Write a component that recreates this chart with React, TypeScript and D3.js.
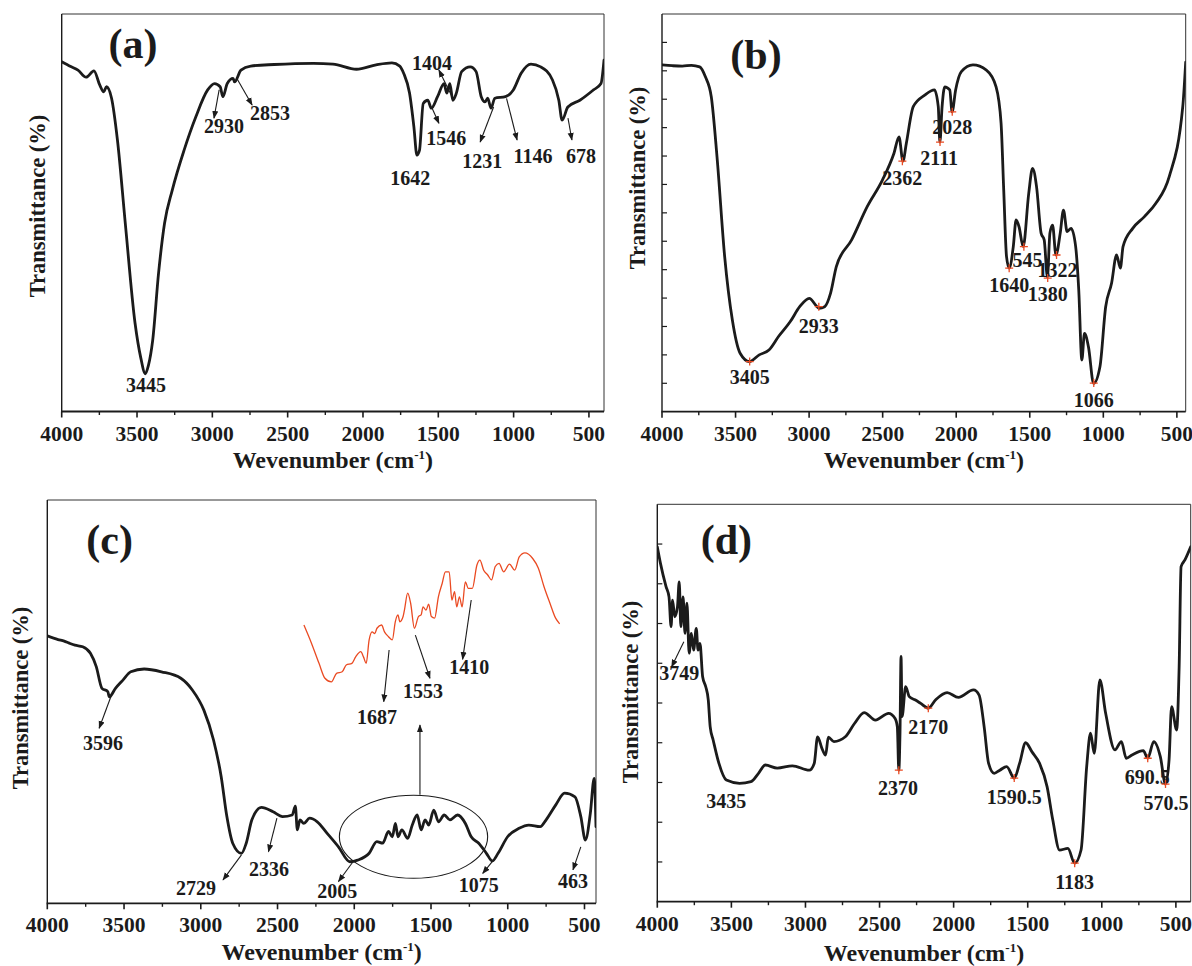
import React from 'react';
import * as d3 from 'd3';

type Pt = [number, number];

// ---- data: [wavenumber (cm-1), transmittance (arbitrary %)] ----
const spectrumA: Pt[] = [
  [4000, 88.0], [3940, 86.8], [3892, 85.9], [3838, 84.1], [3786, 85.7], [3747, 82.1], [3721, 80.4],
  [3703, 81.7], [3669, 78.8], [3630, 68.3], [3578, 47.4], [3513, 22.2], [3475, 13.5], [3445, 9.5],
  [3425, 11.5], [3396, 17.9], [3357, 34.8], [3317, 47.4], [3266, 55.7], [3188, 65.7], [3110, 74.1],
  [3031, 80.9], [2985, 82.5], [2948, 81.7], [2930, 79.2], [2901, 82.5], [2862, 83.8], [2853, 82.9],
  [2810, 85.9], [2745, 86.9], [2589, 87.3], [2329, 87.6], [2199, 87.4], [2043, 86.1], [1913, 87.2],
  [1808, 87.7], [1756, 86.9], [1730, 85.1], [1691, 80.1], [1662, 71.6], [1642, 64.5], [1625, 65.7],
  [1600, 77.5], [1570, 78.3], [1546, 76.3], [1505, 79.2], [1462, 82.5], [1444, 80.1], [1423, 82.5],
  [1404, 78.3], [1380, 80.1], [1345, 85.5], [1288, 86.7], [1249, 85.5], [1215, 79.2], [1190, 77.9],
  [1172, 78.8], [1150, 76.3], [1125, 78.8], [1054, 79.2], [1002, 80.9], [950, 85.1], [885, 87.4],
  [820, 86.7], [742, 83.4], [700, 78.3], [678, 73.3], [640, 76.6], [560, 78.3], [470, 80.9],
  [420, 82.5], [400, 88.4],
];

const spectrumB: Pt[] = [
  [4000, 87.2], [3930, 87.0], [3862, 86.9], [3800, 87.1], [3744, 86.7], [3705, 84.2], [3665, 79.2],
  [3626, 64.1], [3574, 39.0], [3522, 23.1], [3469, 14.7], [3405, 12.6], [3339, 14.3], [3273, 15.5],
  [3208, 18.9], [3129, 22.6], [3064, 26.4], [2999, 28.5], [2946, 26.4], [2933, 26.0], [2894, 26.4],
  [2854, 29.8], [2815, 36.5], [2711, 43.2], [2606, 51.5], [2501, 58.3], [2423, 65.0], [2389, 69.1],
  [2362, 63.0], [2339, 67.5], [2292, 76.7], [2214, 79.6], [2148, 80.9], [2122, 76.7], [2111, 67.8],
  [2096, 76.7], [2078, 81.7], [2044, 80.9], [2028, 75.4], [2004, 80.9], [1965, 85.5], [1886, 87.2],
  [1795, 85.9], [1729, 81.7], [1695, 72.5], [1677, 55.7], [1658, 39.0], [1640, 36.1], [1612, 41.5],
  [1593, 48.2], [1573, 46.5], [1545, 41.5], [1507, 54.9], [1481, 61.2], [1454, 56.6], [1423, 44.9],
  [1402, 43.2], [1380, 33.9], [1363, 44.9], [1345, 46.9], [1322, 39.4], [1293, 44.9], [1271, 50.7],
  [1246, 45.3], [1219, 46.1], [1188, 41.5], [1167, 30.6], [1146, 13.0], [1128, 19.7], [1101, 16.3],
  [1066, 7.1], [1023, 11.3], [984, 26.4], [944, 32.3], [910, 39.4], [884, 36.1], [866, 41.5],
  [800, 46.1], [722, 49.0], [643, 52.4], [552, 59.1], [460, 76.7], [440, 87.9],
];

const spectrumC: Pt[] = [
  [4000, 66.3], [3930, 65.4], [3890, 65.0], [3857, 64.5], [3820, 64.0], [3769, 63.6], [3719, 62.0],
  [3681, 58.7], [3644, 53.3], [3606, 52.5], [3596, 51.2], [3556, 53.3], [3506, 55.4], [3456, 57.4],
  [3369, 58.1], [3256, 57.4], [3130, 55.8], [3055, 52.9], [2980, 47.9], [2917, 40.5], [2867, 31.4],
  [2830, 21.5], [2792, 14.9], [2735, 12.4], [2704, 14.9], [2667, 20.7], [2605, 23.8], [2529, 22.7],
  [2467, 21.5], [2404, 21.9], [2384, 24.1], [2371, 18.2], [2354, 20.7], [2329, 19.8], [2291, 21.1],
  [2241, 20.2], [2178, 17.4], [2103, 14.0], [2028, 10.3], [1978, 10.7], [1903, 12.4], [1853, 15.3],
  [1815, 14.9], [1777, 17.8], [1752, 16.5], [1732, 19.8], [1715, 16.5], [1690, 18.2], [1652, 16.1],
  [1622, 19.4], [1590, 21.9], [1564, 18.2], [1539, 20.7], [1515, 19.4], [1482, 23.1], [1451, 20.2],
  [1414, 21.9], [1377, 20.7], [1327, 21.9], [1276, 19.8], [1238, 16.5], [1189, 14.9], [1139, 12.4],
  [1101, 10.5], [1063, 12.4], [1001, 16.5], [926, 18.6], [863, 19.4], [788, 19.0], [750, 20.7],
  [687, 24.4], [630, 27.3], [562, 26.4], [524, 21.5], [494, 15.7], [462, 22.3], [437, 31.0], [425, 19.0],
];

// enlarged view of the 2050-1100 cm-1 region, drawn in red above panel (c)
const insetC: Pt[] = [
  [2050, 69.0], [2022, 64.5], [1994, 59.5], [1972, 55.8], [1948, 54.9], [1929, 57.0], [1908, 57.4],
  [1893, 59.1], [1872, 59.5], [1858, 61.1], [1839, 62.4], [1829, 61.1], [1819, 59.5], [1808, 65.3],
  [1797, 67.3], [1787, 66.9], [1779, 68.2], [1762, 69.0], [1751, 67.3], [1736, 66.1], [1722, 65.3],
  [1711, 69.8], [1701, 71.5], [1694, 69.8], [1682, 71.1], [1677, 72.7], [1665, 76.9], [1654, 74.4],
  [1640, 68.2], [1625, 71.1], [1615, 71.5], [1608, 73.5], [1597, 72.7], [1587, 74.2], [1577, 71.1],
  [1565, 70.7], [1551, 76.0], [1537, 79.3], [1525, 82.2], [1511, 82.2], [1501, 75.2], [1491, 77.3],
  [1483, 73.5], [1473, 76.0], [1463, 73.5], [1451, 79.7], [1440, 78.1], [1425, 78.1], [1408, 83.9],
  [1397, 85.1], [1383, 82.6], [1368, 81.4], [1354, 80.2], [1340, 83.5], [1326, 84.3], [1309, 82.2],
  [1287, 84.1], [1268, 82.6], [1251, 85.9], [1230, 86.9], [1201, 85.5], [1180, 83.1], [1159, 78.5],
  [1137, 74.4], [1116, 70.7], [1101, 69.3],
];

const spectrumD: Pt[] = [
  [4000, 89.3], [3979, 85.2], [3941, 79.3], [3921, 76.7], [3907, 69.2], [3897, 75.9], [3882, 71.7],
  [3864, 74.2], [3852, 80.5], [3841, 69.2], [3826, 76.7], [3813, 67.5], [3800, 75.1], [3785, 62.5],
  [3770, 67.5], [3755, 63.3], [3737, 68.8], [3725, 63.3], [3712, 65.0], [3694, 56.6], [3673, 54.1],
  [3656, 50.8], [3643, 44.0], [3623, 40.7], [3584, 34.8], [3534, 30.6], [3445, 29.8], [3368, 30.2],
  [3317, 32.3], [3271, 34.4], [3190, 33.6], [3088, 34.2], [2974, 33.1], [2941, 34.8], [2918, 41.5],
  [2889, 38.6], [2864, 36.9], [2846, 41.4], [2808, 40.3], [2731, 41.5], [2668, 44.9], [2604, 47.6],
  [2528, 45.7], [2439, 47.4], [2395, 46.1], [2380, 44.0], [2370, 33.1], [2362, 42.4], [2355, 61.7],
  [2348, 46.6], [2324, 54.1], [2299, 51.6], [2261, 50.8], [2222, 49.9], [2171, 48.7], [2121, 50.8],
  [2044, 52.6], [1968, 51.4], [1866, 53.3], [1828, 52.0], [1794, 44.0], [1764, 34.8], [1726, 32.3],
  [1688, 33.1], [1642, 34.0], [1591, 31.1], [1555, 34.8], [1514, 40.0], [1471, 37.7], [1420, 34.8],
  [1369, 28.9], [1331, 20.6], [1285, 13.0], [1229, 13.4], [1183, 9.7], [1140, 13.0], [1102, 34.0],
  [1076, 42.4], [1051, 37.3], [1013, 55.8], [974, 47.4], [911, 38.2], [868, 40.3], [835, 36.1],
  [796, 36.9], [720, 38.0], [690, 36.1], [649, 40.3], [605, 36.5], [570, 29.6], [546, 35.7],
  [529, 49.1], [495, 43.2], [478, 59.1], [465, 84.3], [439, 86.0], [400, 89.3],
];

const majorTicks = [4000, 3500, 3000, 2500, 2000, 1500, 1000, 500];
const minorTicks = [3750, 3250, 2750, 2250, 1750, 1250, 750];

type Peak = { label: string; at: Pt; arrow?: [Pt, Pt]; mark?: Pt };

const peaksA: Peak[] = [
  { label: '3445', at: [3440, 6.5] },
  { label: '2930', at: [2922, 71.8], arrow: [[2955, 80.9], [2989, 73.8]] },
  { label: '2853', at: [2617, 75.1], arrow: [[2839, 83.9], [2736, 77.1]] },
  { label: '1642', at: [1687, 58.7] },
  { label: '1546', at: [1448, 68.7], arrow: [[1541, 76.3], [1496, 72.5]] },
  { label: '1404', at: [1541, 87.7], arrow: [[1397, 78.3], [1496, 85.9]] },
  { label: '1231', at: [1209, 63.0], arrow: [[1133, 76.6], [1222, 67.8]] },
  { label: '1146', at: [871, 64.2], arrow: [[1047, 78.8], [977, 68.3]] },
  { label: '678', at: [552, 64.2], arrow: [[639, 73.8], [613, 68.3]] },
];

const peaksB: Peak[] = [
  { label: '3405', at: [3404, 8.6], mark: [3404, 12.6] },
  { label: '2933', at: [2934, 21.6], mark: [2934, 26.4] },
  { label: '2362', at: [2366, 58.8], mark: [2366, 63.0] },
  { label: '2111', at: [2116, 63.7], mark: [2110, 67.8] },
  { label: '2028', at: [2027, 71.5], mark: [2027, 75.4] },
  { label: '1640', at: [1640, 31.9], mark: [1640, 36.1] },
  { label: '545', at: [1516, 38.2], mark: [1540, 41.5] },
  { label: '1380', at: [1378, 29.6], mark: [1378, 33.6] },
  { label: '1322', at: [1312, 35.6], mark: [1318, 39.4] },
  { label: '1066', at: [1065, 2.9], mark: [1065, 7.2] },
];

const peaksC: Peak[] = [
  { label: '3596', at: [3637, 39.7], arrow: [[3586, 51.2], [3662, 43.4]] },
  { label: '2729', at: [3031, 3.7], arrow: [[2735, 12.0], [2855, 5.8]] },
  { label: '2336', at: [2556, 8.4], arrow: [[2504, 21.1], [2559, 12.8]] },
  { label: '2005', at: [2111, 2.9], arrow: [[2008, 10.3], [2103, 5.4]] },
  { label: '1075', at: [1189, 4.5], arrow: [[1093, 10.7], [1163, 7.4]] },
  { label: '463', at: [575, 5.5], arrow: [[524, 14.0], [575, 8.3]] },
  { label: '1687', at: [1852, 46.1], arrow: [[1773, 62.8], [1808, 50.0]] },
  { label: '1553', at: [1552, 52.5], arrow: [[1602, 66.5], [1507, 55.8]] },
  { label: '1410', at: [1251, 58.5], arrow: [[1238, 75.2], [1294, 60.5]] },
];

const peaksD: Peak[] = [
  { label: '3749', at: [3852, 57.5], arrow: [[3821, 65.4], [3903, 59.1]] },
  { label: '3435', at: [3534, 25.2] },
  { label: '2370', at: [2375, 28.5], mark: [2370, 33.1] },
  { label: '2170', at: [2171, 44.0], mark: [2171, 48.7] },
  { label: '1590.5', at: [1591, 26.4], mark: [1591, 31.1] },
  { label: '1183', at: [1183, 5.0], mark: [1183, 9.7] },
  { label: '690.5', at: [694, 31.3], mark: [690, 36.1] },
  { label: '570.5', at: [567, 24.9], mark: [570, 29.6] },
];

// ---- layout ----
const FONT = '"Liberation Serif", "Times New Roman", serif';
const INK = '#1b1b1b';
const RED = '#ea4a22';

type Cfg = {
  key: string;
  name: string;
  namePos: Pt;
  box: { l: number; r: number; t: number; b: number };
  xEnd: number;
  spectrum: Pt[];
  peaks: Peak[];
  yStep?: number;
  xTitleGap: number;
  yTitle: Pt; // pixel centre of the rotated title
  inset?: { data: Pt[]; domain: Pt; span: Pt };
  ellipse?: { c: Pt; rw: number; rt: number; up: [Pt, Pt] };
};

const panels: Cfg[] = [
  {
    key: 'a', name: '(a)', namePos: [3527, 91.8],
    box: { l: 61.7, r: 604, t: 14, b: 411.5 }, xEnd: 400,
    spectrum: spectrumA, peaks: peaksA, xTitleGap: 56, yTitle: [38, 206],
  },
  {
    key: 'b', name: '(b)', namePos: [3361, 88.9],
    box: { l: 662, r: 1185.7, t: 14, b: 411.7 }, xEnd: 440,
    spectrum: spectrumB, peaks: peaksB, yStep: 100 / 14, xTitleGap: 56, yTitle: [638, 178],
  },
  {
    key: 'c', name: '(c)', namePos: [3594, 89.3],
    box: { l: 47.3, r: 596, t: 500, b: 903.3 }, xEnd: 425,
    spectrum: spectrumC, peaks: peaksC, xTitleGap: 57, yTitle: [21, 698],
    inset: { data: insetC, domain: [2050, 1100], span: [2328, 660] },
    ellipse: { c: [1614, 16.5], rw: 483, rt: 10.3, up: [[1572, 26.9], [1572, 44.2]] },
  },
  {
    key: 'd', name: '(d)', namePos: [3534, 90.2],
    box: { l: 657.3, r: 1190.7, t: 504.3, b: 901.7 }, xEnd: 400,
    spectrum: spectrumD, peaks: peaksD, yStep: 10, xTitleGap: 59, yTitle: [631, 692],
  },
];

function Panel({ cfg }: { cfg: Cfg }) {
  const { box } = cfg;
  const x = d3.scaleLinear().domain([4000, cfg.xEnd]).range([box.l, box.r]);
  const y = d3.scaleLinear().domain([0, 100]).range([box.b, box.t]);
  const line = d3.line<Pt>().x((d) => x(d[0])).y((d) => y(d[1])).curve(d3.curveMonotoneX);

  let insetPath: string | null = null;
  if (cfg.inset) {
    const xi = d3.scaleLinear().domain(cfg.inset.domain).range([x(cfg.inset.span[0]), x(cfg.inset.span[1])]);
    insetPath = d3.line<Pt>().x((d) => xi(d[0])).y((d) => y(d[1])).curve(d3.curveMonotoneX)(cfg.inset.data);
  }

  const yTicks = cfg.yStep ? d3.range(cfg.yStep, 100, cfg.yStep) : [];
  const clipId = `clip-${cfg.key}`;
  const xMid = (box.l + box.r) / 2;

  return (
    <g>
      <defs>
        <clipPath id={clipId}>
          <rect x={box.l} y={box.t} width={box.r - box.l} height={box.b - box.t} />
        </clipPath>
      </defs>

      {/* frame */}
      <line x1={box.l} x2={box.r} y1={box.t} y2={box.t} stroke="#333" strokeWidth={1} />
      <line x1={box.r} x2={box.r} y1={box.t} y2={box.b} stroke="#333" strokeWidth={1} />
      <line x1={box.l} x2={box.l} y1={box.t} y2={box.b} stroke={INK} strokeWidth={1.4} />
      <line x1={box.l - 0.7} x2={box.r} y1={box.b} y2={box.b} stroke={INK} strokeWidth={1.8} />

      {majorTicks.map((t) => (
        <g key={`M${t}`}>
          <line x1={x(t)} x2={x(t)} y1={box.b} y2={box.b + 6} stroke={INK} strokeWidth={1.6} />
          <text x={x(t)} y={box.b + 29} textAnchor="middle" fontSize={21.5} fontWeight="bold"
            fontFamily={FONT} fill={INK}>{t}</text>
        </g>
      ))}
      {minorTicks.map((t) => (
        <line key={`m${t}`} x1={x(t)} x2={x(t)} y1={box.b} y2={box.b + 3.5} stroke={INK} strokeWidth={1.4} />
      ))}
      {yTicks.map((t) => (
        <line key={`y${t}`} x1={box.l} x2={box.l + 5} y1={y(t)} y2={y(t)} stroke={INK} strokeWidth={1.2} />
      ))}

      <text x={xMid} y={box.b + cfg.xTitleGap} textAnchor="middle" fontSize={24} fontWeight="bold"
        fontFamily={FONT} fill={INK}>
        Wevenumber (cm<tspan fontSize={13} dy={-9}>-1</tspan><tspan dy={9}>)</tspan>
      </text>
      <text transform={`translate(${cfg.yTitle[0]},${cfg.yTitle[1]}) rotate(-90)`} dy="0.33em"
        textAnchor="middle" fontSize={22.5} fontWeight="bold" fontFamily={FONT} fill={INK}>
        Transmittance (%)
      </text>

      <text x={x(cfg.namePos[0])} y={y(cfg.namePos[1])} dy="0.26em" textAnchor="middle"
        fontSize={42} fontWeight="bold" fontFamily={FONT} fill={INK}>{cfg.name}</text>

      <path d={line(cfg.spectrum) ?? ''} fill="none" stroke={INK} strokeWidth={2.8}
        strokeLinejoin="round" strokeLinecap="round" clipPath={`url(#${clipId})`} />

      {insetPath && <path d={insetPath} fill="none" stroke={RED} strokeWidth={1.3} strokeLinejoin="round" />}

      {cfg.ellipse && (
        <g>
          <ellipse cx={x(cfg.ellipse.c[0])} cy={y(cfg.ellipse.c[1])}
            rx={Math.abs(x(cfg.ellipse.c[0] - cfg.ellipse.rw) - x(cfg.ellipse.c[0]))}
            ry={Math.abs(y(cfg.ellipse.c[1] + cfg.ellipse.rt) - y(cfg.ellipse.c[1]))}
            fill="none" stroke={INK} strokeWidth={1.1} />
          <line x1={x(cfg.ellipse.up[0][0])} y1={y(cfg.ellipse.up[0][1])}
            x2={x(cfg.ellipse.up[1][0])} y2={y(cfg.ellipse.up[1][1])}
            stroke={INK} strokeWidth={1.1} markerEnd="url(#arrowHead)" />
        </g>
      )}

      {cfg.peaks.map((p) => (
        <g key={p.label}>
          {p.arrow && (
            <line x1={x(p.arrow[0][0])} y1={y(p.arrow[0][1])} x2={x(p.arrow[1][0])} y2={y(p.arrow[1][1])}
              stroke={INK} strokeWidth={1.1} markerEnd="url(#arrowHead)" />
          )}
          <text x={x(p.at[0])} y={y(p.at[1])} dy="0.34em" textAnchor="middle" fontSize={20}
            fontWeight="bold" fontFamily={FONT} fill={INK}>{p.label}</text>
          {p.mark && (
            <path d={`M${x(p.mark[0]) - 4},${y(p.mark[1])}h8M${x(p.mark[0])},${y(p.mark[1]) - 4}v8`}
              stroke={RED} strokeWidth={1.3} fill="none" />
          )}
        </g>
      ))}
    </g>
  );
}

export default function App() {
  return (
    <svg width={1192} height={966} viewBox="0 0 1192 966"
      style={{ position: 'absolute', left: 0, top: 0, background: '#fff' }}>
      <defs>
        <marker id="arrowHead" viewBox="0 0 10 10" refX={9} refY={5} markerWidth={8} markerHeight={8}
          markerUnits="userSpaceOnUse" orient="auto">
          <path d="M0,1.2 L10,5 L0,8.8 Z" fill={INK} />
        </marker>
      </defs>
      <rect width={1192} height={966} fill="#fff" />
      {panels.map((p) => <Panel key={p.key} cfg={p} />)}
    </svg>
  );
}
